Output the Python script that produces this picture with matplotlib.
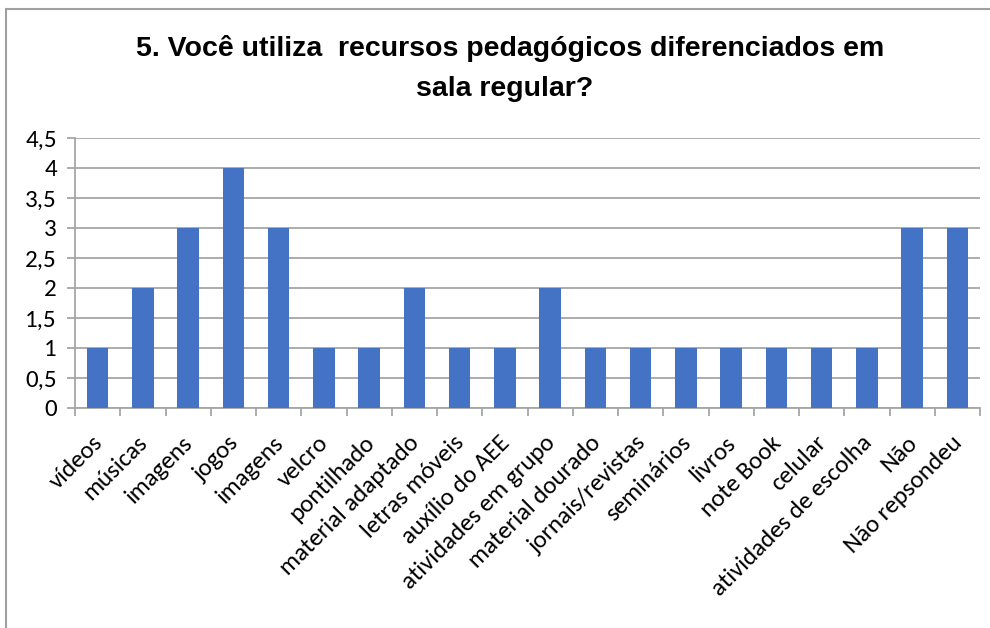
import matplotlib
matplotlib.use("Agg")
import matplotlib.pyplot as plt
from matplotlib.patches import Rectangle
from matplotlib.ticker import FuncFormatter, MultipleLocator
from matplotlib.transforms import ScaledTranslation
from matplotlib import font_manager

categories = ["vídeos", "músicas", "imagens", "jogos", "imagens", "velcro", "pontilhado",
              "material adaptado", "letras móveis", "auxílio do AEE", "atividades em grupo",
              "material dourado", "jornais/revistas", "seminários", "livros", "note Book",
              "celular", "atividades de escolha", "Não", "Não repsondeu"]
values = [1, 2, 3, 4, 3, 1, 1, 2, 1, 1, 2, 1, 1, 1, 1, 1, 1, 1, 3, 3]
title_lines = ["5. Você utiliza  recursos pedagógicos diferenciados em", "sala regular?"]

names = {f.name for f in font_manager.fontManager.ttflist}
title_font = "Liberation Sans Narrow" if "Liberation Sans Narrow" in names else "Liberation Sans"
tick_font = "Carlito" if "Carlito" in names else "Lato"

fig = plt.figure(figsize=(9.9, 6.28), dpi=100)
ax = fig.add_axes([75/990, 1 - 408/628, (980 - 75)/990, (408 - 138)/628])

x = list(range(len(categories)))
ax.bar(x, values, width=0.48, color="#4472C4", zorder=3)
ax.set_xlim(-0.5, len(categories) - 0.5)
ax.set_ylim(0, 4.5)
ax.yaxis.set_major_locator(MultipleLocator(0.5))
ax.yaxis.set_major_formatter(FuncFormatter(lambda v, p: (f"{v:g}").replace(".", ",")))
ax.grid(axis="y", color="#A6A6A6", linewidth=1.3, zorder=0)
for s in ["top", "right"]:
    ax.spines[s].set_visible(False)
for s in ["left", "bottom"]:
    ax.spines[s].set_color("#A6A6A6")
    ax.spines[s].set_linewidth(1.3)

ax.set_xticks([i - 0.5 for i in range(len(categories) + 1)], minor=False)
ax.set_xticklabels([])
ax.set_xticks(x, minor=True)
ax.set_xticklabels(categories, minor=True, rotation=45, ha="right", rotation_mode="anchor",
                   fontsize=18, family=tick_font)
ax.tick_params(axis="x", which="major", length=6, width=1.3, color="#A6A6A6", direction="out")
ax.tick_params(axis="x", which="minor", length=0, pad=8)
ax.tick_params(axis="y", length=6, width=1.3, color="#A6A6A6", labelsize=18, pad=7)
for lab in ax.get_yticklabels():
    lab.set_family(tick_font)
offset = ScaledTranslation(-6/100, -13/100, fig.dpi_scale_trans)
for lab in ax.get_xticklabels(minor=True):
    lab.set_transform(lab.get_transform() + offset)

fig.text(0.515, 1 - 48/628, title_lines[0], ha="center", va="center", fontsize=20.5,
         fontweight="bold", family=title_font)
fig.text(0.51, 1 - 89/628, title_lines[1], ha="center", va="center", fontsize=20.5,
         fontweight="bold", family=title_font)

fig.patches.append(Rectangle((6/990, -0.1), 1.2, 1 - 9/628 + 0.1, transform=fig.transFigure,
                             fill=False, edgecolor="#A0A0A0", linewidth=1.5))

fig.savefig("out.png", dpi=100)
